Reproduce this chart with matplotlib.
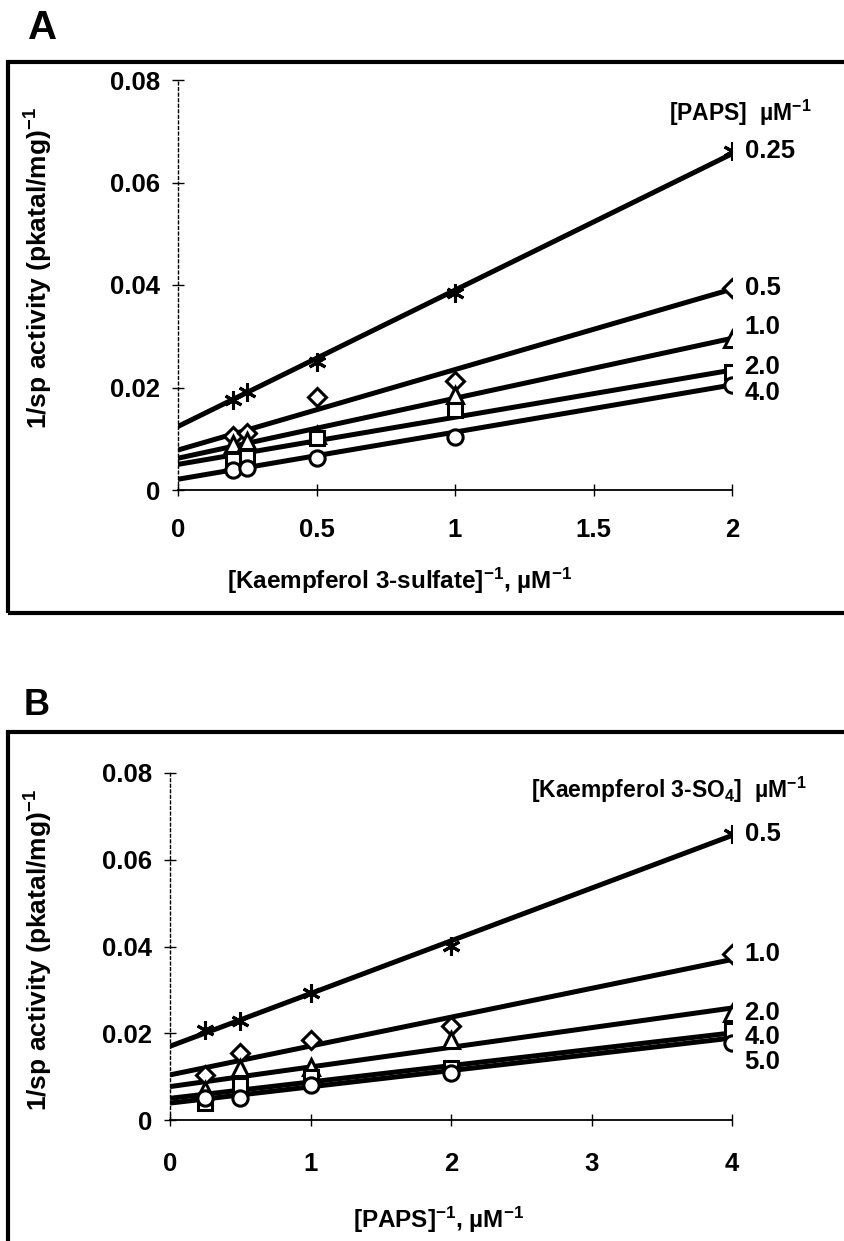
import matplotlib

matplotlib.use("Agg")

import matplotlib.pyplot as plt
import numpy as np
from matplotlib.patches import Rectangle

plt.rcParams["font.family"] = ["Liberation Sans", "DejaVu Sans"]
plt.rcParams["font.weight"] = "bold"
plt.rcParams["mathtext.fontset"] = "custom"
plt.rcParams["mathtext.rm"] = "Liberation Sans:bold"
plt.rcParams["mathtext.bf"] = "Liberation Sans:bold"
plt.rcParams["mathtext.default"] = "rm"

# Panel A: 1/v vs 1/[kaempferol 3-sulfate] at fixed [PAPS]
a_x = [0.2, 0.25, 0.5, 1.0, 2.0]
a_labels = ["0.25", "0.5", "1.0", "2.0", "4.0"]
a_y = [
    [0.0176, 0.0192, 0.0250, 0.0384, 0.0662],
    [0.0105, 0.0112, 0.0182, 0.0213, 0.0394],
    [0.0090, 0.0095, 0.0107, 0.0185, 0.0294],
    [0.0059, 0.0065, 0.0102, 0.0156, 0.0231],
    [0.0039, 0.0042, 0.0062, 0.0104, 0.0205],
]
a_intercept = [0.0124, 0.0078, 0.0062, 0.0050, 0.0021]
a_slope = [0.0266, 0.0157, 0.0117, 0.0092, 0.0092]

# Panel B: 1/v vs 1/[PAPS] at fixed kaempferol 3-sulfate
b_x = [0.25, 0.5, 1.0, 2.0, 4.0]
b_labels = ["0.5", "1.0", "2.0", "4.0", "5.0"]
b_y = [
    [0.0208, 0.0228, 0.0293, 0.0401, 0.0660],
    [0.0104, 0.0154, 0.0185, 0.0216, 0.0382],
    [0.0069, 0.0120, 0.0123, 0.0185, 0.0247],
    [0.0039, 0.0081, 0.0100, 0.0120, 0.0208],
    [0.0050, 0.0050, 0.0081, 0.0108, 0.0177],
]
b_intercept = [0.0170, 0.0104, 0.0077, 0.0050, 0.0039]
b_slope = [0.01215, 0.00665, 0.00453, 0.00377, 0.00375]

a_xticks = [0, 0.5, 1, 1.5, 2]
a_xticklabels = ["0", "0.5", "1", "1.5", "2"]
b_xticks = [0, 1, 2, 3, 4]
yticks = [0, 0.02, 0.04, 0.06, 0.08]
yticklabels = ["0", "0.02", "0.04", "0.06", "0.08"]

markers = [(6, 2, 0), "D", "^", "s", "o"]
marker_sizes = [13, 9.5, 11, 10, 11]

# label nudges (pixels) next to the last point of each series
a_label_dy = [0, 0, 12, 5, -8]
b_label_dy = [0, 0, 0, -7, -19]

YLABEL = "1/sp activity (pkatal/mg)$^{-1}$"


def draw_panel(ax, x, ys, intercepts, slopes, labels, label_dy, xmax):
    xs_line = np.array([0.0, xmax])
    for y, b0, b1, m, ms, lab, dy in zip(ys, intercepts, slopes, markers, marker_sizes, labels, label_dy):
        ax.plot(xs_line, b0 + b1 * xs_line, color="black", lw=3.6, solid_capstyle="butt", zorder=2)
        ax.plot(x, y, linestyle="none", marker=m, ms=ms, mfc="white", mec="black", mew=2.2, zorder=3)
        ax.annotate(lab, xy=(x[-1], y[-1]), xytext=(9, dy * 0.72), textcoords="offset points",
                    ha="left", va="center", fontsize=18.5, fontweight="bold", clip_on=False)
    ax.set_xlim(0, xmax)
    ax.set_ylim(0, 0.08)
    for side in ("top", "right"):
        ax.spines[side].set_visible(False)
    ax.spines["left"].set_linestyle((0, (2, 2)))
    ax.spines["left"].set_linewidth(1.0)
    ax.spines["bottom"].set_linewidth(1.3)
    ax.set_yticks(yticks)
    ax.set_yticklabels(yticklabels)
    ax.tick_params(axis="both", direction="inout", length=8, width=1.0, labelsize=18.5)
    ax.tick_params(axis="y", pad=9)
    ax.patch.set_visible(False)


fig = plt.figure(figsize=(8.44, 12.41), dpi=100)

ax_a = fig.add_axes([178 / 844, 1 - 490 / 1241, 554 / 844, 410 / 1241])
draw_panel(ax_a, a_x, a_y, a_intercept, a_slope, a_labels, a_label_dy, 2.0)
ax_a.set_xticks(a_xticks)
ax_a.set_xticklabels(a_xticklabels)
ax_a.tick_params(axis="x", pad=16)
ax_a.set_ylabel(YLABEL, fontsize=19, fontweight="bold")
ax_a.yaxis.set_label_coords(-0.222, 0.54)
ax_a.set_xlabel("[Kaempferol 3-sulfate]$^{-1}$, \u00b5M$^{-1}$", fontsize=17.5, fontweight="bold")
ax_a.xaxis.set_label_coords(0.40, -0.185)
ax_a.text(1.143, 0.92, "[PAPS]  \u00b5M$^{-1}$", transform=ax_a.transAxes, ha="right", va="center",
          fontsize=16.5, fontweight="bold")

ax_b = fig.add_axes([170 / 844, 1 - 1120 / 1241, 562 / 844, 347 / 1241])
draw_panel(ax_b, b_x, b_y, b_intercept, b_slope, b_labels, b_label_dy, 4.0)
ax_b.set_xticks(b_xticks)
ax_b.set_xticklabels([str(t) for t in b_xticks])
ax_b.tick_params(axis="x", pad=19)
ax_b.set_ylabel(YLABEL, fontsize=19, fontweight="bold")
ax_b.yaxis.set_label_coords(-0.205, 0.49)
ax_b.set_xlabel("[PAPS]$^{-1}$, \u00b5M$^{-1}$", fontsize=17.5, fontweight="bold")
ax_b.xaxis.set_label_coords(0.478, -0.245)
ax_b.text(1.133, 0.951, "[Kaempferol 3-SO$_4$]  \u00b5M$^{-1}$", transform=ax_b.transAxes, ha="right",
          va="center", fontsize=16.5, fontweight="bold")

# boxes around each panel (right side runs off the page)
fig.add_artist(Rectangle((8 / 844, 1 - 613 / 1241), 1.2, (613 - 62) / 1241, transform=fig.transFigure,
                         fill=False, lw=3, edgecolor="black"))
fig.add_artist(Rectangle((8 / 844, -0.2), 1.2, 0.2 + 1 - 732 / 1241, transform=fig.transFigure,
                         fill=False, lw=3, edgecolor="black"))

fig.text(43 / 844, 1 - 28 / 1241, "A", fontsize=29, fontweight="bold", ha="center", va="center")
fig.text(37 / 844, 1 - 705 / 1241, "B", fontsize=26, fontweight="bold", ha="center", va="center")

fig.savefig("out.png", dpi=100)
